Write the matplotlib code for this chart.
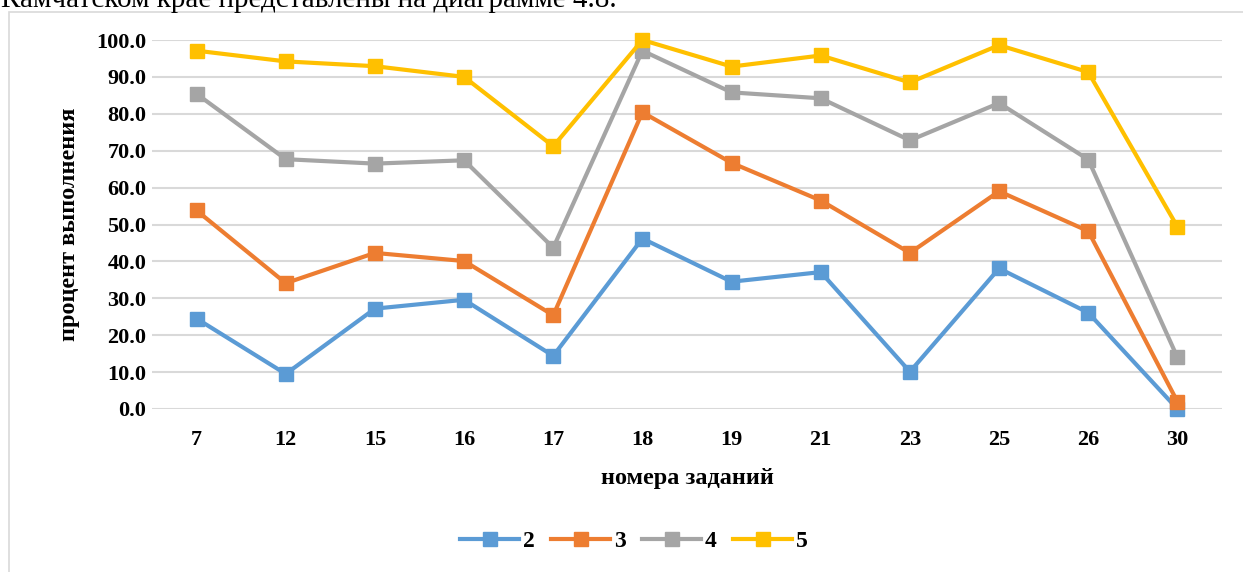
import matplotlib
matplotlib.use("Agg")
import matplotlib.pyplot as plt
from matplotlib.lines import Line2D
from matplotlib.patches import Rectangle

categories = ["7", "12", "15", "16", "17", "18", "19", "21", "23", "25", "26", "30"]
series_names = ["2", "3", "4", "5"]
s2 = [24.5, 9.5, 27.2, 29.6, 14.4, 46.2, 34.5, 37.1, 10.1, 38.1, 26.1, 0.0]
s3 = [53.8, 34.1, 42.3, 40.1, 25.4, 80.4, 66.7, 56.5, 42.3, 59.0, 48.2, 2.0]
s4 = [85.4, 67.7, 66.5, 67.4, 43.7, 97.1, 85.8, 84.2, 72.8, 82.9, 67.6, 14.0]
s5 = [97.1, 94.2, 92.9, 90.0, 71.2, 100.0, 92.8, 95.8, 88.5, 98.6, 91.3, 49.4]
yticks = [0, 10, 20, 30, 40, 50, 60, 70, 80, 90, 100]
colors = ["#5B9BD5", "#ED7D31", "#A5A5A5", "#FFC000"]

plt.rcParams['font.family'] = ['Liberation Serif', 'DejaVu Serif']

W, H = 1243, 572
fig = plt.figure(figsize=(W / 100, H / 100), dpi=100)

# heading text of the document, cut off at the top
fig.text(1 / W, 1 - 7 / H, "Камчатском крае представлены на диаграмме 4.8.",
         fontsize=21, ha="left", va="baseline", color="black")

# chart border
fig.patches.append(Rectangle((8.5 / W, -0.05), 1.1, (H - 11.5) / H + 0.05,
                             transform=fig.transFigure, fill=False,
                             edgecolor="#D9D9D9", linewidth=1.2))

ax = fig.add_axes([152 / W, (H - 409) / H, (1222 - 152) / W, (409 - 40) / H])
x = list(range(len(categories)))
for vals, c, name in zip([s2, s3, s4, s5], colors, series_names):
    ax.plot(x, vals, color=c, linewidth=3, marker="s", markersize=9.5,
            label=name, clip_on=False, zorder=3)

ax.set_xlim(-0.5, len(categories) - 0.5)
ax.set_ylim(0, 100)
ax.set_yticks(yticks)
ax.set_yticklabels([f"{v:.1f}" for v in yticks])
ax.set_xticks(x)
ax.set_xticklabels(categories)
ax.yaxis.grid(True, color="#D9D9D9", linewidth=1.5)
ax.set_axisbelow(True)
for sp in ax.spines.values():
    sp.set_visible(False)
ax.tick_params(axis="both", length=0, labelsize=16)
ax.tick_params(axis="y", pad=4)
ax.tick_params(axis="x", pad=15)
for lbl in ax.get_xticklabels() + ax.get_yticklabels():
    lbl.set_fontweight("bold")

ax.set_ylabel("процент выполнения", fontsize=17.5, fontweight="bold", labelpad=12)
ax.set_xlabel("номера заданий", fontsize=17.5, fontweight="bold", labelpad=13)

handles = [Line2D([0], [0], color=c, linewidth=3, marker="s", markersize=9.5)
           for c in colors]
fig.legend(handles, series_names, loc="center", bbox_to_anchor=(634 / W, 1 - 541 / H),
           ncol=4, frameon=False, prop={"weight": "bold", "size": 17},
           handlelength=2.5, handletextpad=0.15, columnspacing=0.7)

fig.savefig("out.png", dpi=100, facecolor="white")
